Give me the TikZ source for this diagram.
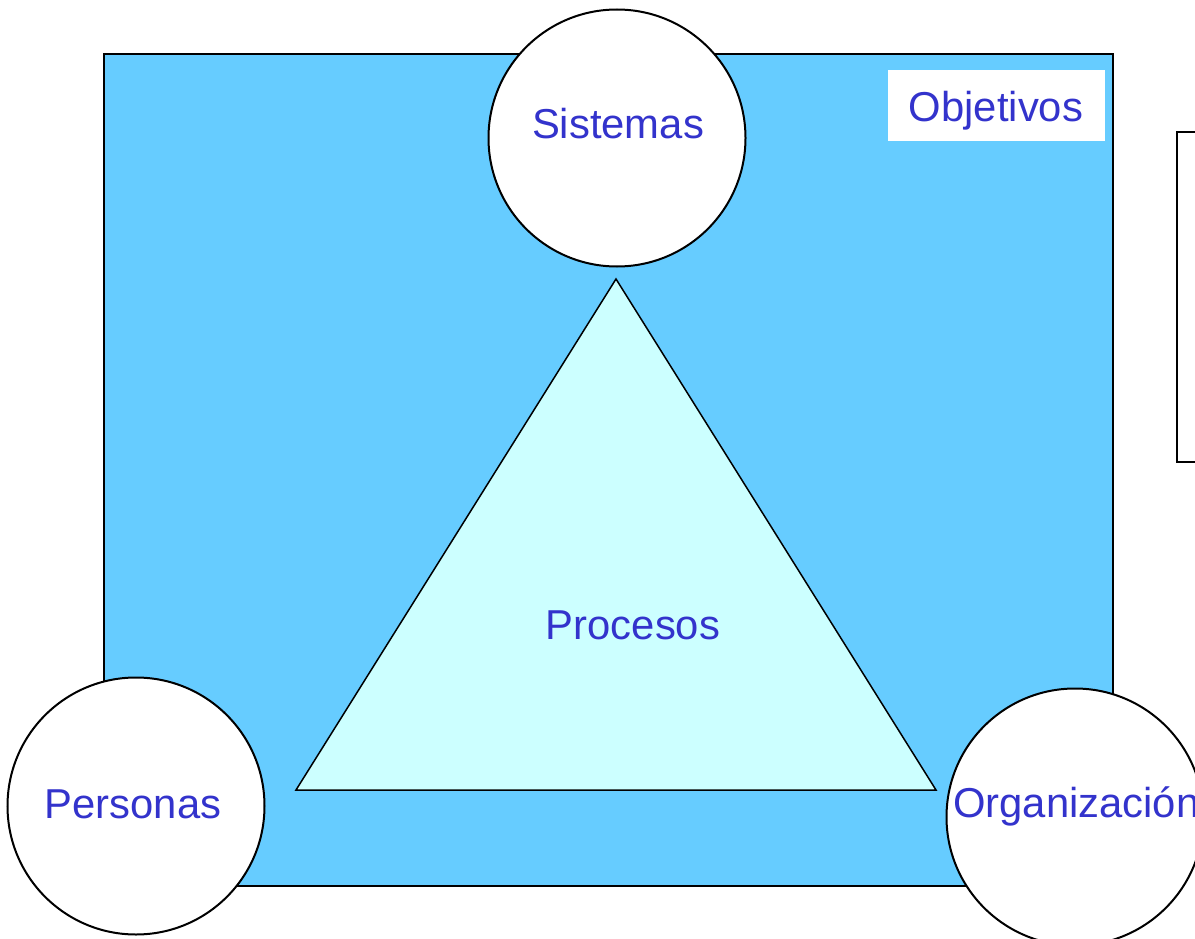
\documentclass[tikz,border=0pt]{standalone}
\usepackage{fontspec}
\setmainfont{Liberation Sans}
\definecolor{skyfill}{HTML}{66CCFF}
\definecolor{trifill}{HTML}{CCFFFF}
\definecolor{txtblue}{HTML}{3333CC}
\begin{document}
\begin{tikzpicture}[x=1pt,y=-1pt,
  outline/.style={draw=black,line width=2pt},
  bubble/.style={outline,circle,fill=white,minimum size=257pt,inner sep=0pt},
  lbl/.style={text=txtblue,font=\fontsize{41.8}{48}\selectfont,anchor=base,inner sep=0pt}]
\useasboundingbox (0,0) rectangle (1195,939);
\fill[white] (0,0) rectangle (1195,939);
% main blue area
\draw[outline,fill=skyfill] (104,54) rectangle (1113,886);
% right box (partly outside)
\draw[outline] (1210,132) -- (1177,132) -- (1177,462) -- (1210,462);
% triangle
\coordinate (apex) at (616,279);
\coordinate (bl) at (296,790);
\coordinate (br) at (936,790);
\draw[outline,line width=1.5pt,fill=trifill,line join=miter] (apex) -- (bl) -- (br) -- cycle;
% circles
\node[bubble] (sis) at (617,138) {};
\node[bubble] (per) at (136,806) {};
\node[bubble] (org) at (1075,817) {};
% texts
\node[lbl] (tsis) at (618,139) {Sistemas};
\node[lbl] (tper) at (133,818) {Personas};
\node[lbl,anchor=base west] (torg) at (953,817) {Organización};
\node[lbl] (tpro) at (633,639) {Procesos};
% objetivos box
\fill[white] (888,70) rectangle (1105,141);
\node[lbl] (tobj) at (996,122) {Objetivos};
\end{tikzpicture}
\end{document}
